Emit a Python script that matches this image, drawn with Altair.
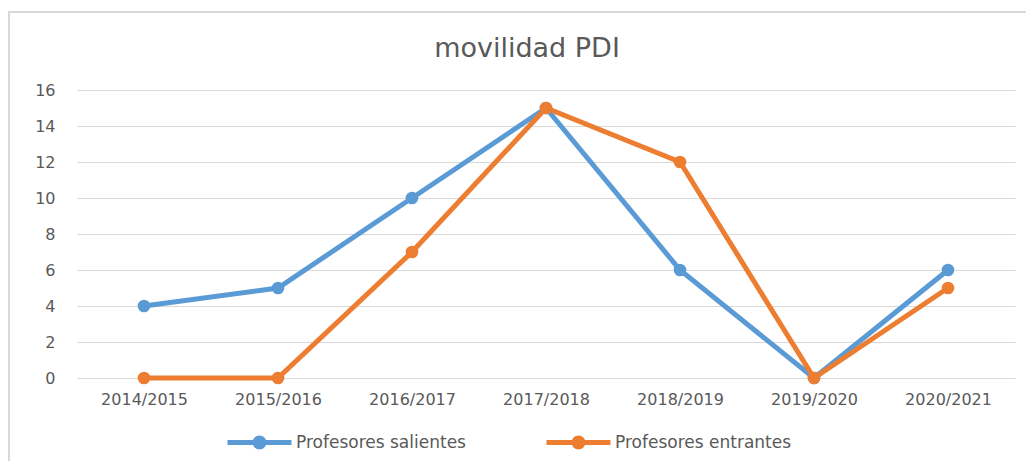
import altair as alt
import pandas as pd

years = ["2014/2015", "2015/2016", "2016/2017", "2017/2018", "2018/2019", "2019/2020", "2020/2021"]
salientes = [4, 5, 10, 15, 6, 0, 6]
entrantes = [0, 0, 7, 15, 12, 0, 5]
series_names = ["Profesores salientes", "Profesores entrantes"]
series_colors = ["#5B9BD5", "#ED7D31"]
title_text = "movilidad PDI"

rows = []
for name, vals in zip(series_names, [salientes, entrantes]):
    for y, v in zip(years, vals):
        rows.append({"curso": y, "valor": v, "serie": name})
df = pd.DataFrame(rows)

W, H = 938, 288
PAD_L, PAD_T = 69, 82

SYMBOL = ("M -1 0 L 1 0 "
          "M 0.14 0 A 0.14 0.14 0 1 1 -0.14 0 A 0.14 0.14 0 1 1 0.14 0 "
          "M 0.06 0 A 0.06 0.06 0 1 1 -0.06 0 A 0.06 0.06 0 1 1 0.06 0")

x = alt.X("curso:N", sort=years, scale=alt.Scale(type="point", padding=0.5),
          axis=alt.Axis(title=None, labelAngle=0, labelFont="DejaVu Sans", labelFontSize=16,
                        labelColor="#595959", labelPadding=13, ticks=False, domain=False, grid=False))
y = alt.Y("valor:Q", scale=alt.Scale(domain=[0, 16], nice=False),
          axis=alt.Axis(title=None, values=list(range(0, 17, 2)), labelFont="DejaVu Sans", labelFontSize=16,
                        labelColor="#595959", labelPadding=22, ticks=False, domain=False,
                        gridColor="#D9D9D9", gridWidth=1.2))
cscale = alt.Scale(domain=series_names, range=series_colors)
color = alt.Color("serie:N", scale=cscale,
                  legend=alt.Legend(title=None, orient="none", direction="horizontal",
                                    legendX=148, legendY=318,
                                    symbolType=SYMBOL,
                                    symbolSize=4096, symbolStrokeWidth=5,
                                    labelFont="DejaVu Sans", labelFontSize=17, labelColor="#595959",
                                    labelLimit=400, labelOffset=2, columnPadding=70))

lines = alt.Chart(df).mark_line(strokeWidth=5).encode(x=x, y=y, color=color)
points = alt.Chart(df).mark_circle(size=160, opacity=1).encode(
    x=x, y=y, color=alt.Color("serie:N", scale=cscale, legend=None))

one = pd.DataFrame({"t": [title_text]})
border = alt.Chart(one).mark_rect(fill="transparent", stroke="#D9D9D9", strokeWidth=2).encode(
    x=alt.value(-PAD_L + 1), x2=alt.value(W + 40), y=alt.value(-PAD_T + 4), y2=alt.value(H + 120))
title = alt.Chart(one).mark_text(font="DejaVu Sans", fontSize=27, color="#595959",
                                 align="center", baseline="alphabetic").encode(
    x=alt.value(450), y=alt.value(-33), text="t:N")

chart = alt.layer(border, title, lines, points).properties(
    width=W, height=H,
    padding={"left": PAD_L, "top": PAD_T, "right": 11, "bottom": 83},
    autosize=alt.AutoSizeParams(type="none"),
).configure_view(stroke=None)

chart.save("out.html", embed_options={"renderer": "svg", "actions": False})
